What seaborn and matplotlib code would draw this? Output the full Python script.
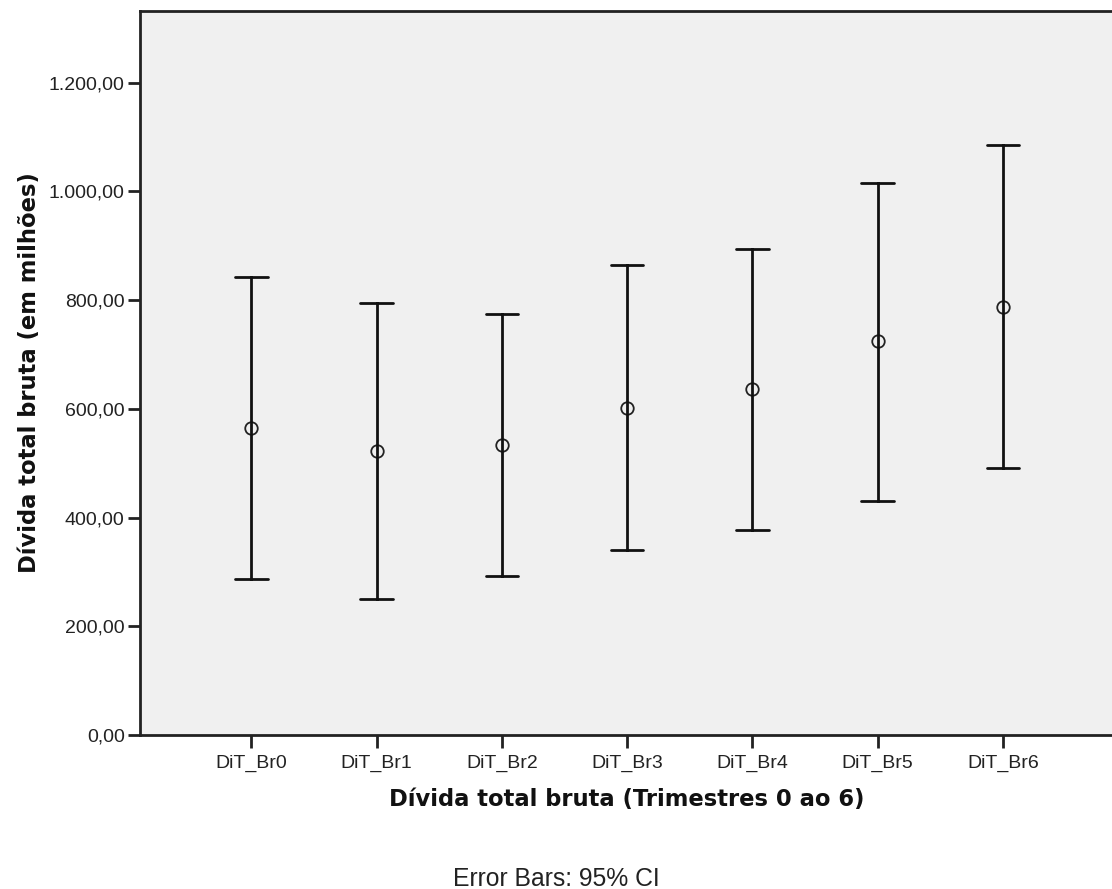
import numpy as np
import pandas as pd
import seaborn as sns
import matplotlib
matplotlib.use("Agg")
import matplotlib.pyplot as plt
from matplotlib.ticker import FuncFormatter

# Quarterly gross total debt (millions): mean and 95% CI bounds
trimestres = ["DiT_Br0", "DiT_Br1", "DiT_Br2", "DiT_Br3", "DiT_Br4", "DiT_Br5", "DiT_Br6"]
media = [565.0, 523.0, 534.0, 602.0, 637.0, 724.0, 788.0]
ic_inferior = [287.0, 251.0, 292.0, 340.0, 378.0, 431.0, 491.0]
ic_superior = [843.0, 795.0, 775.0, 865.0, 894.0, 1016.0, 1086.0]

# Long table: the median of (lower, mean, upper) is the mean, and the
# full 0-100 percentile interval recovers the CI bounds.
linhas = []
for t, lo, m, hi in zip(trimestres, ic_inferior, media, ic_superior):
    for v in (lo, m, hi):
        linhas.append({"trimestre": t, "valor": v})
df = pd.DataFrame(linhas)

sns.set_theme(style="white")
plt.rcParams["font.family"] = ["Liberation Sans", "DejaVu Sans"]

W, H = 1112, 889
fig = plt.figure(figsize=(W / 100, H / 100), dpi=100)
ax = fig.add_axes([140 / W, (H - 735) / H, (W - 140) / W + 0.001, (735 - 11) / H])
ax.set_facecolor("#f0f0f0")

sns.pointplot(
    data=df, x="trimestre", y="valor", order=trimestres,
    estimator="median", errorbar=("pi", 100),
    capsize=0.26, linestyle="none", color="black",
    marker="o", markersize=9, markerfacecolor="none",
    markeredgewidth=1.3, markeredgecolor="#222222",
    err_kws={"linewidth": 2.0, "color": "#111111"},
    ax=ax,
)

ax.set_xlim(-0.89, 6.88)
ax.set_ylim(0, 1332)
ax.set_yticks(np.arange(0, 1201, 200))
ax.yaxis.set_major_formatter(
    FuncFormatter(lambda v, _: f"{v:,.2f}".replace(",", "X").replace(".", ",").replace("X", "."))
)

for lado in ("left", "top", "bottom"):
    ax.spines[lado].set_visible(True)
    ax.spines[lado].set_color("#222222")
    ax.spines[lado].set_linewidth(2.0)
ax.spines["right"].set_visible(False)

ax.tick_params(axis="both", which="major", direction="out", length=9, width=2,
               color="#222222", labelsize=14, labelcolor="#222222", pad=2,
               left=True, bottom=True)
ax.tick_params(axis="x", pad=5)

ax.set_xlabel("Dívida total bruta (Trimestres 0 ao 6)", fontsize=16.3,
              fontweight="bold", family="DejaVu Sans", labelpad=12, color="#111111")
ax.set_ylabel("Dívida total bruta (em milhões)", fontsize=16.3,
              fontweight="bold", family="DejaVu Sans", labelpad=6, color="#111111")

fig.text(0.5, (H - 886) / H, "Error Bars: 95% CI", ha="center", va="baseline",
         fontsize=17.8, color="#222222")

fig.savefig("out.png", dpi=100, facecolor="white")
